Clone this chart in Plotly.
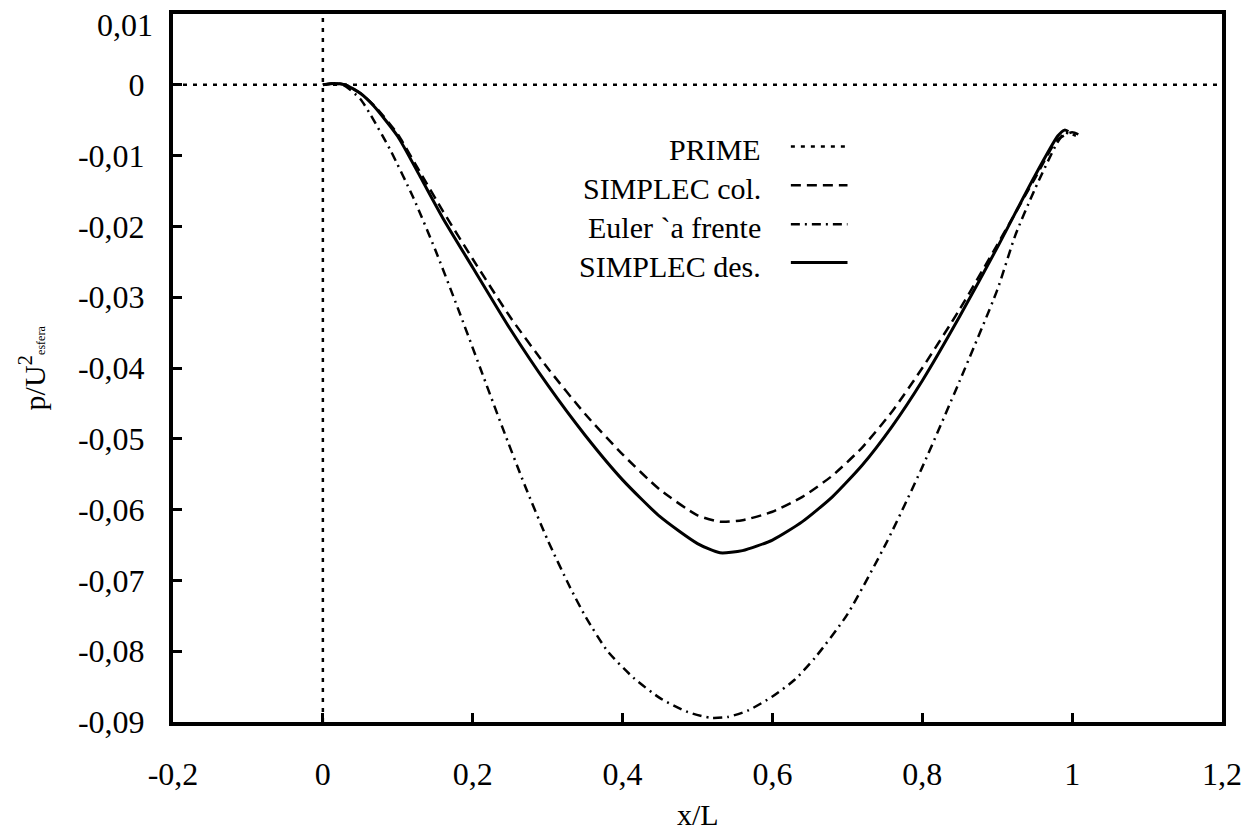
import plotly.graph_objects as go

# ---- data ----
x_prime = [-0.2, 1.2]
y_prime = [0.0, 0.0]

x_col = [0.0, 0.015, 0.03, 0.05, 0.07, 0.10, 0.13, 0.16, 0.20, 0.25, 0.30, 0.35, 0.40, 0.45,
         0.50, 0.53, 0.56, 0.60, 0.64, 0.68, 0.72, 0.76, 0.80, 0.85, 0.90, 0.95, 0.98, 1.0, 1.015]
y_col = [0.0, 0.0002, 0.0, -0.0012, -0.0031, -0.0070, -0.0124, -0.0178, -0.0246, -0.0328, -0.0400,
         -0.0465, -0.0522, -0.0572, -0.0608, -0.0617, -0.0615, -0.0603, -0.0582, -0.0552, -0.0512,
         -0.0461, -0.0400, -0.0317, -0.0226, -0.0133, -0.0078, -0.0067, -0.0074]

x_eul = [0.0, 0.015, 0.03, 0.05, 0.064, 0.09, 0.121, 0.15, 0.18, 0.21, 0.24, 0.27, 0.30, 0.33,
         0.351, 0.38, 0.415, 0.451, 0.487, 0.517, 0.54, 0.567, 0.60, 0.63, 0.657, 0.70, 0.753,
         0.80, 0.85, 0.90, 0.924, 0.95, 0.98, 0.99, 1.005]
y_eul = [0.0, 0.0002, -0.0002, -0.0020, -0.0043, -0.0092, -0.0160, -0.0233, -0.0315, -0.0400,
         -0.0485, -0.0567, -0.0643, -0.0710, -0.0752, -0.0800, -0.0838, -0.0867, -0.0886, -0.0894,
         -0.0893, -0.0884, -0.0864, -0.0840, -0.0809, -0.0748, -0.0645, -0.0540, -0.0418, -0.0290,
         -0.0213, -0.0148, -0.0082, -0.0068, -0.0072]

x_des = [0.0, 0.015, 0.03, 0.05, 0.068, 0.10, 0.13, 0.16, 0.20, 0.25, 0.30, 0.35, 0.40, 0.45,
         0.50, 0.53, 0.56, 0.60, 0.64, 0.68, 0.72, 0.76, 0.80, 0.85, 0.90, 0.948, 0.981, 0.99, 0.995]
y_des = [0.0, 0.0002, 0.0, -0.0012, -0.0030, -0.0073, -0.0130, -0.0188, -0.0258, -0.0345, -0.0424,
         -0.0495, -0.0558, -0.0610, -0.0648, -0.0661, -0.0658, -0.0643, -0.0617, -0.0582, -0.0537,
         -0.0482, -0.0418, -0.0327, -0.0230, -0.0133, -0.0072, -0.0064, -0.0066]

legend_names = ["PRIME", "SIMPLEC col.", "Euler `a frente", "SIMPLEC des."]
legend_dashes = ["4px,6px", "10px,6px", "9px,5px,2px,5px", "solid"]
legend_widths = [2.5, 2.5, 2.5, 3]

x_ticks = [-0.2, 0, 0.2, 0.4, 0.6, 0.8, 1.0, 1.2]
x_tick_text = ["-0,2", "0", "0,2", "0,4", "0,6", "0,8", "1", "1,2"]
y_ticks = [0.01, 0, -0.01, -0.02, -0.03, -0.04, -0.05, -0.06, -0.07, -0.08, -0.09]
y_tick_text = ["0,01", "0", "-0,01", "-0,02", "-0,03", "-0,04", "-0,05", "-0,06", "-0,07", "-0,08", "-0,09"]

FONT = "Liberation Serif"
TICK_FS = 32
TEXT_FS = 30

fig = go.Figure()

# vertical zero axis (dotted)
fig.add_trace(go.Scatter(x=[0, 0], y=[y_ticks[-1], y_ticks[0]], mode="lines",
                         line=dict(color="black", width=2.5, dash=legend_dashes[0]),
                         showlegend=False, hoverinfo="skip"))
series = [(x_prime, y_prime), (x_col, y_col), (x_eul, y_eul), (x_des, y_des)]
for (xs, ys), name, dash, w in zip(series, legend_names, legend_dashes, legend_widths):
    fig.add_trace(go.Scatter(x=xs, y=ys, mode="lines", name=name,
                             line=dict(color="black", width=w, dash=dash,
                                       shape="spline", smoothing=0.6),
                             showlegend=False))

# custom legend: text on the left, sample line on the right
legend_y = [0.808, 0.753, 0.698, 0.644]
annotations = []
shapes = []
for name, dash, w, ly in zip(legend_names, legend_dashes, legend_widths, legend_y):
    annotations.append(dict(x=0.5625, y=ly, xref="paper", yref="paper", text=name,
                            showarrow=False, xanchor="right", yanchor="middle",
                            font=dict(family=FONT, size=TEXT_FS, color="black")))
    shapes.append(dict(type="line", xref="paper", yref="paper", x0=0.589, x1=0.643,
                       y0=ly + 0.005, y1=ly + 0.005,
                       line=dict(color="black", width=w, dash=dash)))

# top tick label drawn slightly below its tick, as in the reference
annotations.append(dict(x=0, y=y_ticks[0], xref="paper", yref="y", text=y_tick_text[0],
                        showarrow=False, xanchor="right", yanchor="middle",
                        xshift=-18, yshift=-11,
                        font=dict(family=FONT, size=TICK_FS, color="black")))
annotations.append(dict(x=0.5, y=-0.131, xref="paper", yref="paper", text="x/L",
                        showarrow=False, xanchor="center", yanchor="middle",
                        font=dict(family=FONT, size=TEXT_FS, color="black")))
annotations.append(dict(x=-0.134, y=0.5, xref="paper", yref="paper",
                        text="p/U<sup>2</sup><span style='font-size:12px'>esfera</span>",
                        showarrow=False, xanchor="center", yanchor="middle", textangle=-90,
                        font=dict(family=FONT, size=TEXT_FS, color="black")))

# the page body has an 8px default margin: size the figure so the plot area lands
# where the reference has it in the 1258x831 window
fig.update_layout(
    width=1250, height=823,
    margin=dict(l=165, r=36, t=2, b=109),
    paper_bgcolor="white", plot_bgcolor="white",
    font=dict(family=FONT, size=TEXT_FS, color="black"),
    annotations=annotations, shapes=shapes,
    xaxis=dict(range=[-0.2, 1.2], tickvals=x_ticks, ticktext=x_tick_text,
               ticks="inside", ticklen=9, tickwidth=3, tickcolor="black",
               showline=True, linewidth=4, linecolor="black", mirror=True,
               showgrid=False, zeroline=False, ticklabelstandoff=21,
               tickfont=dict(family=FONT, size=TICK_FS, color="black")),
    yaxis=dict(range=[-0.09, 0.01], tickvals=y_ticks[1:], ticktext=y_tick_text[1:],
               ticks="inside", ticklen=9, tickwidth=3, tickcolor="black",
               showline=True, linewidth=4, linecolor="black", mirror=True,
               showgrid=False, zeroline=False, ticklabelstandoff=18,
               tickfont=dict(family=FONT, size=TICK_FS, color="black")),
)

fig.write_html("out.html")
